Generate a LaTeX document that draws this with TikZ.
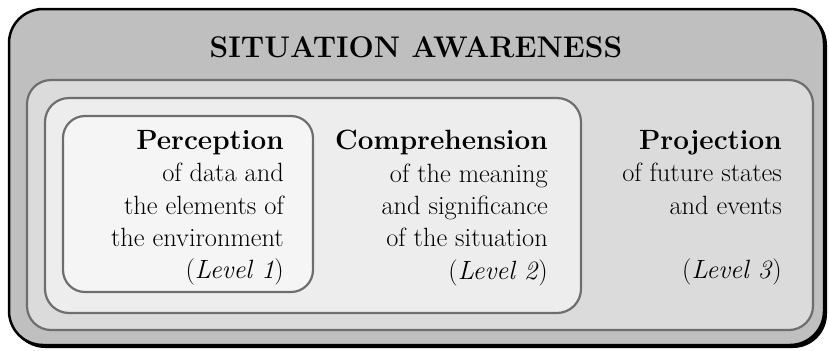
\documentclass[tikz,border=0pt]{standalone}

\tikzset{
  frame/.style={draw=black!57, line width=2.2bp, rounded corners=24bp},
  lvltext/.style={align=right, anchor=north east, inner sep=0pt,
    font=\fontsize{26.5}{32.5}\selectfont},
}
\newcommand{\lvlhead}[1]{{\fontsize{28}{32.5}\selectfont\bfseries #1}}

\begin{document}
\begin{tikzpicture}[x=1bp,y=-1bp]
  \useasboundingbox (0,0) rectangle (829,350);
  % outer frame, with its dark shadow
  \fill[black, rounded corners=34bp] (11,11) rectangle (827,348);
  \filldraw[fill=black!25, draw=black, line width=2.5bp, rounded corners=34bp] (9,9) rectangle (824,345);
  \node[anchor=base, inner sep=0pt, font=\fontsize{30}{36}\selectfont\bfseries] (title) at (416,57) {SITUATION AWARENESS};
  % nested levels
  \filldraw[frame, fill=black!14] (27,80) rectangle (813,330);
  \filldraw[frame, fill=black!7] (45,98) rectangle (581,313);
  \filldraw[frame, fill=black!4, rounded corners=22bp] (63,116) rectangle (313,292);
  \node[lvltext] (perc) at (284,130) {\lvlhead{Perception}\\ of data and\\ the elements of\\ the environment\\ (\textit{Level 1})};
  \node[lvltext] (comp) at (548,130) {\lvlhead{Comprehension}\\ of the meaning\\ and significance\\ of the situation\\ (\textit{Level 2})};
  \node[lvltext] (proj) at (782,130) {\lvlhead{Projection}\\ of future states\\ and events\\ ~\\ (\textit{Level 3})};
\end{tikzpicture}
\end{document}
